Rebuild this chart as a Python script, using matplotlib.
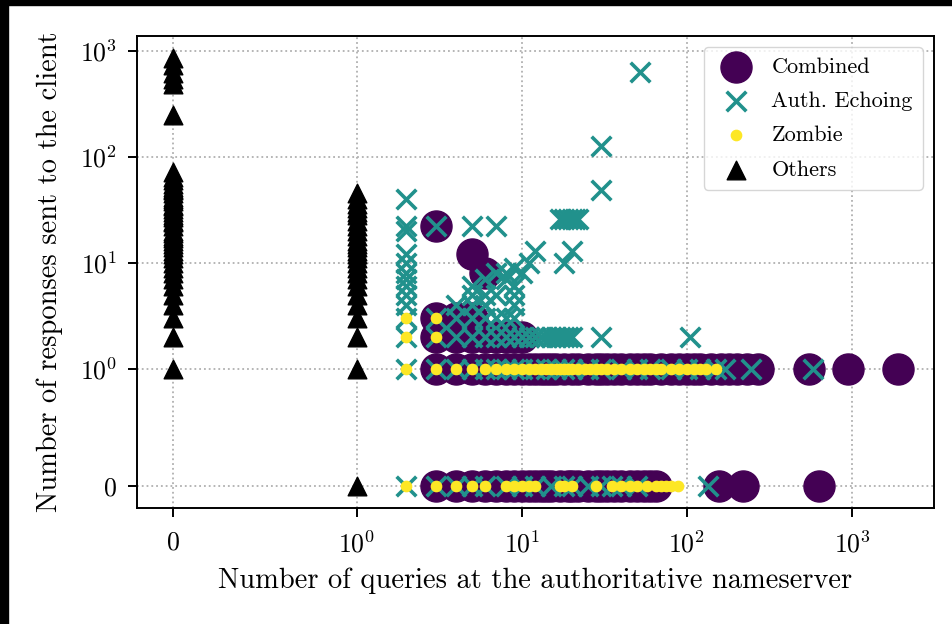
import matplotlib
matplotlib.use('Agg')
import matplotlib.pyplot as plt
from matplotlib.patches import Rectangle
from matplotlib.ticker import NullLocator

plt.rcParams['font.family'] = 'cmr10'
plt.rcParams['mathtext.fontset'] = 'cm'
plt.rcParams['axes.unicode_minus'] = False
plt.rcParams['axes.formatter.use_mathtext'] = True

# Combined (purple circles)
comb_x = [3, 4, 5, 6, 7, 8, 9, 10, 11, 12, 13, 14, 15, 17, 19, 20, 22, 25, 28, 30,
          33, 36, 40, 45, 50, 55, 60, 65, 156, 217, 628,
          3, 4, 5, 6, 7, 8, 9, 10, 11, 12, 13, 14, 15, 16, 18, 20, 22, 25, 28, 30,
          33, 36, 40, 45, 50, 55, 60, 70, 80, 90, 100, 110, 120, 140, 160, 180, 200,
          230, 268, 547, 942, 1890,
          3, 4, 5, 6, 7, 8, 9, 10,
          3, 4, 5,
          3, 5, 6]
comb_y = [0] * 31 + [1] * 42 + [2] * 8 + [3] * 3 + [22, 12, 8]

# Auth. Echoing (teal crosses)
echo_x = [2, 2, 2, 2, 2, 2, 2, 2, 2, 2, 2, 2, 2, 2,
          3, 4, 5, 6, 8, 10, 12, 15, 18, 20, 25, 30, 35, 40, 50, 135,
          3, 4, 5, 6, 7, 8, 9, 10, 12, 14, 16, 18, 20, 25, 30, 40, 50, 60, 80,
          100, 120, 150, 171, 243, 578,
          3, 4, 5, 6, 7, 8, 9, 10, 11, 12, 13, 14, 15, 16, 17, 18, 19, 20, 30, 104,
          3, 4, 5, 6, 7, 8, 9,
          4, 5, 6, 9, 5, 6, 7, 9,
          5, 6, 7, 8, 9, 10, 11, 12, 9, 8,
          3, 5, 7, 18, 20, 17, 18, 19, 20, 21, 22, 30, 30, 52]
echo_y = [0, 1, 2, 3, 4, 5, 6, 7, 8, 10, 12, 20, 22, 40] + \
         [0] * 16 + [1] * 25 + [2] * 20 + [3] * 7 + \
         [4, 4, 4, 4, 5, 5, 5, 5] + \
         [6, 7, 8, 8, 9, 8, 10, 13, 6, 7] + \
         [22, 22, 22, 10, 13, 26, 26, 26, 26, 26, 26, 49, 125, 630]

# Zombie (yellow dots)
zomb_x = [2, 2, 2, 2, 3, 3,
          3, 4, 5, 6, 7, 8, 9, 10, 11, 12, 13, 14, 15, 16, 17, 18, 19, 20, 22, 24,
          26, 28, 30, 33, 36, 40, 45, 50, 55, 60, 65, 70, 80, 90, 100, 110, 120, 130, 150,
          3, 4, 5, 6, 8, 9, 10, 11, 12, 17, 18, 20, 28, 35, 40, 45, 50, 57, 65, 70,
          75, 80, 88]
zomb_y = [0, 1, 2, 3, 2, 3] + [1] * 39 + [0] * 23

# Others (black triangles)
oth_x = [0] * 46 + [1] * 27
oth_y = [1, 2, 3, 4, 5, 6, 7, 8, 9, 10, 11, 12, 13, 14, 15, 16, 17, 18, 19, 20,
         22, 24, 25, 27, 30, 32, 35, 38, 40, 45, 50, 55, 60, 65, 72, 245,
         480, 540, 620, 730, 860, 28, 34, 42, 48, 52,
         0, 1, 2, 3, 4, 5, 6, 7, 8, 9, 10, 11, 12, 13, 14, 15, 16, 18, 20, 22,
         25, 28, 30, 33, 36, 40, 45]

fig = plt.figure(figsize=(9.53, 6.24), dpi=100)
ax = fig.add_axes([0.1438, 0.186, 0.8362, 0.756])

ax.scatter(comb_x, comb_y, s=500, marker='o', color='#440154', label='Combined', zorder=2)
ax.scatter(echo_x, echo_y, s=200, marker='x', color='#21918c', linewidths=2.6,
           label='Auth. Echoing', zorder=3)
ax.scatter(zomb_x, zomb_y, s=55, marker='o', color='#fde725', label='Zombie', zorder=4)
ax.scatter(oth_x, oth_y, s=180, marker='^', color='black', label='Others', zorder=5)

ax.set_xscale('symlog', linthresh=1)
ax.set_yscale('symlog', linthresh=1)
ax.xaxis.set_minor_locator(NullLocator())
ax.yaxis.set_minor_locator(NullLocator())

ax.set_axisbelow(True)
ax.grid(True, linestyle=':', color='#b0b0b0', linewidth=1.3)

ax.set_xlabel('Number of queries at the authoritative nameserver', fontsize=20.5, labelpad=7)
ax.set_ylabel('Number of responses sent to the client', fontsize=20.5)
ax.yaxis.set_label_coords(-0.093, 0.5)
ax.tick_params(axis='both', which='major', labelsize=18.5, direction='out',
               length=6.5, width=1.4)
ax.tick_params(axis='x', pad=10)
ax.tick_params(axis='y', pad=8)
for sp in ax.spines.values():
    sp.set_linewidth(1.4)

ax.legend(loc='upper right', fontsize=16, borderpad=0.45, labelspacing=0.66,
          handletextpad=0.6, borderaxespad=0.5, framealpha=0.8)

# black strips along the top and left edge of the picture
fig.patches.append(Rectangle((0, 1 - 5 / 624), 1, 5 / 624, transform=fig.transFigure,
                             color='black', zorder=10))
fig.patches.append(Rectangle((0, 0), 8 / 953, 1, transform=fig.transFigure,
                             color='black', zorder=10))

fig.savefig('out.png', dpi=100)
